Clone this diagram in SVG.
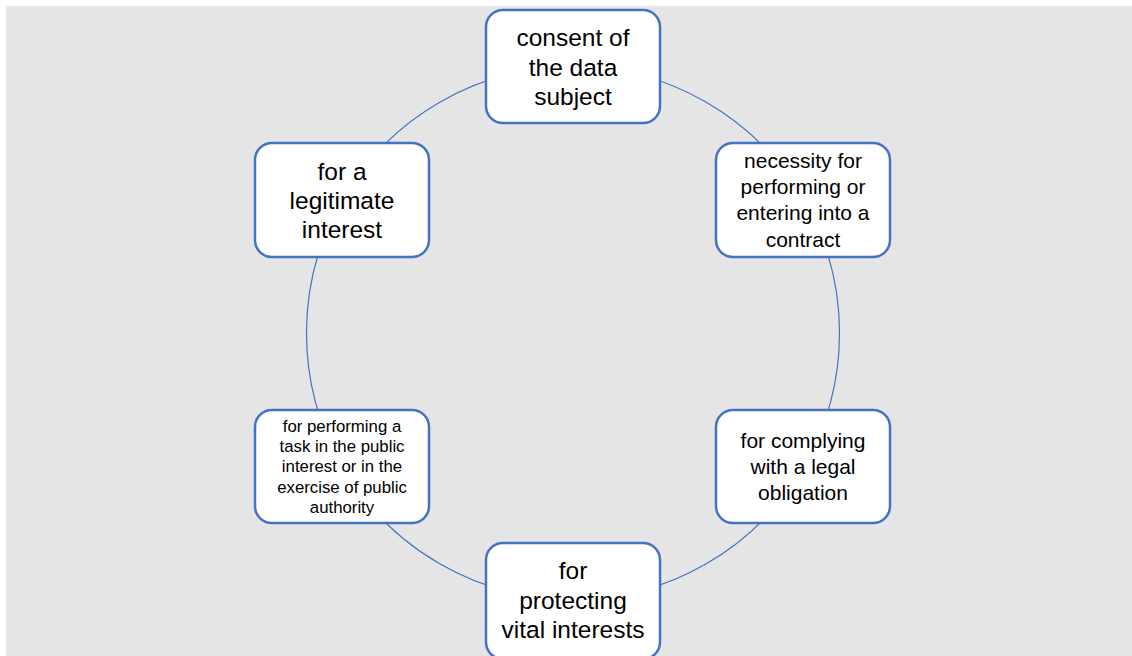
<svg xmlns="http://www.w3.org/2000/svg" width="1132" height="656" viewBox="0 0 1132 656">
<style>
.box{fill:#ffffff;stroke:#4472c4;stroke-width:2.5}
.arc{fill:none;stroke:#4472c4;stroke-width:1.2}
.t{font-family:"Liberation Sans",Arial,sans-serif;fill:#000;text-anchor:middle}
.l{font-size:24.5px}
.m{font-size:21px}
.s{font-size:16.8px}
</style>
<rect x="6" y="6" width="1126" height="650" fill="#e5e5e5"/>
<g id="connectors">
<path class="arc" d="M573 66.5 A266.5 266.5 0 0 1 803.8 199.75"/>
<path class="arc" d="M803.8 199.75 A266.5 266.5 0 0 1 803.8 466.25"/>
<path class="arc" d="M803.8 466.25 A266.5 266.5 0 0 1 573 599.5"/>
<path class="arc" d="M573 599.5 A266.5 266.5 0 0 1 342.2 466.25"/>
<path class="arc" d="M342.2 466.25 A266.5 266.5 0 0 1 342.2 199.75"/>
<path class="arc" d="M342.2 199.75 A266.5 266.5 0 0 1 573 66.5"/>
</g>
<g id="node-consent">
<rect class="box" x="486" y="10" width="174" height="113" rx="17"/>
<text class="t l" x="573" y="46">consent of</text>
<text class="t l" x="573" y="76">the data</text>
<text class="t l" x="573" y="105">subject</text>
</g>
<g id="node-contract">
<rect class="box" x="716" y="143" width="174" height="114" rx="17"/>
<text class="t m" x="803" y="168">necessity for</text>
<text class="t m" x="803" y="194">performing or</text>
<text class="t m" x="803" y="220">entering into a</text>
<text class="t m" x="803" y="247">contract</text>
</g>
<g id="node-legal">
<rect class="box" x="716" y="410" width="174" height="113" rx="17"/>
<text class="t m" x="803" y="448">for complying</text>
<text class="t m" x="803" y="474">with a legal</text>
<text class="t m" x="803" y="500">obligation</text>
</g>
<g id="node-vital">
<rect class="box" x="486" y="543" width="174" height="116" rx="17"/>
<text class="t l" x="573" y="579">for</text>
<text class="t l" x="573" y="609">protecting</text>
<text class="t l" x="573" y="638">vital interests</text>
</g>
<g id="node-public">
<rect class="box" x="255" y="410" width="174" height="113" rx="17"/>
<text class="t s" x="342" y="432">for performing a</text>
<text class="t s" x="342" y="452">task in the public</text>
<text class="t s" x="342" y="472">interest or in the</text>
<text class="t s" x="342" y="493">exercise of public</text>
<text class="t s" x="342" y="513">authority</text>
</g>
<g id="node-legitimate">
<rect class="box" x="255" y="143" width="174" height="114" rx="17"/>
<text class="t l" x="342" y="180">for a</text>
<text class="t l" x="342" y="209">legitimate</text>
<text class="t l" x="342" y="238">interest</text>
</g>
</svg>
